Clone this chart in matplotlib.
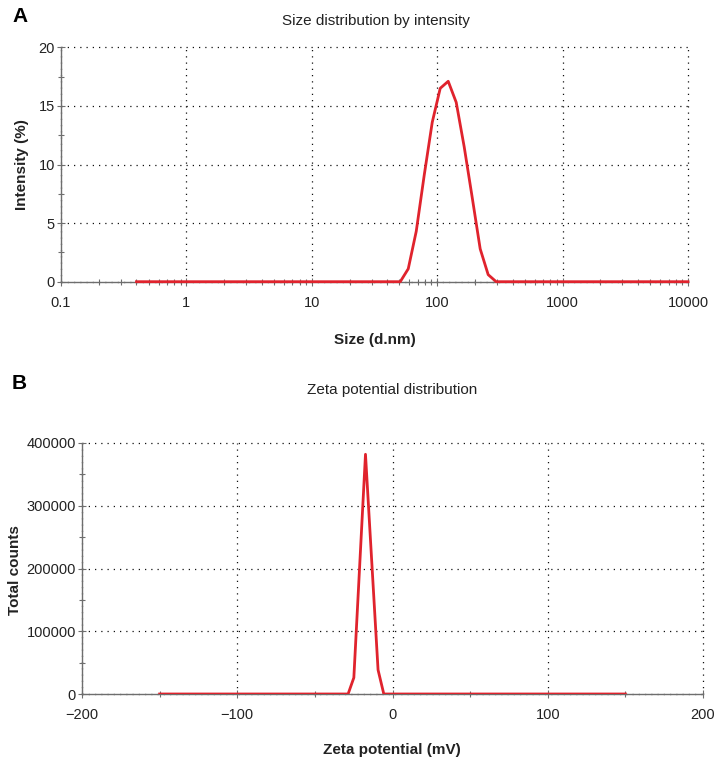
import matplotlib
matplotlib.use("Agg")
import matplotlib.pyplot as plt
from matplotlib.ticker import FixedLocator, NullFormatter, LogLocator, MultipleLocator

plt.rcParams['font.family'] = ['Liberation Sans', 'DejaVu Sans']

# Panel A: size distribution by intensity
size_nm = [0.4, 50.75, 58.77, 68.06, 78.82, 91.28, 105.7, 122.4, 141.8,
           164.2, 190.1, 220.2, 255.0, 295.3, 10000]
intensity = [0, 0, 1.1, 4.3, 9.1, 13.6, 16.5, 17.1, 15.3,
             11.5, 7.2, 2.8, 0.6, 0, 0]
size_ticks = [0.1, 1, 10, 100, 1000, 10000]
size_ticklabels = ['0.1', '1', '10', '100', '1000', '10000']
int_ticks = [0, 5, 10, 15, 20]

# Panel B: zeta potential distribution
zeta_mv = [-150, -28.6, -24.9, -17.4, -9.3, -5.6, 150]
counts = [0, 0, 26000, 382000, 38400, 0, 0]
zeta_ticks = [-200, -100, 0, 100, 200]
zeta_ticklabels = ['\u2212200', '\u2212100', '0', '100', '200']
count_ticks = [0, 100000, 200000, 300000, 400000]

RED = '#e0232d'
SPINE = '#6e6e6e'
TXT = '#222222'

fig = plt.figure(figsize=(7.2, 7.67), dpi=100)

def style(ax):
    for s in ['top', 'right']:
        ax.spines[s].set_visible(False)
    for s in ['left', 'bottom']:
        ax.spines[s].set_color(SPINE)
        ax.spines[s].set_linewidth(1.0)
    ax.tick_params(which='both', direction='inout', color=SPINE, width=0.8,
                   labelsize=10.5, labelcolor=TXT)
    ax.tick_params(which='major', length=6)
    ax.tick_params(which='minor', length=5)
    ax.tick_params(axis='x', which='major', pad=7)
    ax.tick_params(axis='y', which='major', pad=1.5)
    ax.grid(True, which='major', color='#111111', linestyle=(0, (1, 4)), linewidth=0.9)
    for gl in ax.get_xgridlines() + ax.get_ygridlines():
        gl.set_clip_on(False)

# ---- Panel A ----
axA = fig.add_axes([61/720, 1-281.7/767, 627/720, 234.4/767])
axA.plot(size_nm, intensity, color=RED, linewidth=2, clip_on=False, zorder=5)
axA.set_xscale('log')
axA.set_xlim(0.1, 10000)
axA.set_ylim(0, 20)
axA.xaxis.set_major_locator(FixedLocator(size_ticks))
axA.set_xticklabels(size_ticklabels)
axA.xaxis.set_minor_locator(LogLocator(base=10, subs=range(2, 10)))
axA.xaxis.set_minor_formatter(NullFormatter())
axA.set_yticks(int_ticks)
axA.yaxis.set_minor_locator(MultipleLocator(2.5))
style(axA)
fig.text(376/720, 1-21/767, 'Size distribution by intensity', fontsize=11,
         ha='center', va='center', color=TXT)
fig.text(375/720, 1-340/767, 'Size (d.nm)', fontsize=11, fontweight='bold',
         ha='center', va='center', color=TXT)
fig.text(22/720, 1-165/767, 'Intensity (%)', fontsize=11, fontweight='bold',
         ha='center', va='center', rotation=90, color=TXT)
fig.text(12/720, 1-17/767, 'A', fontsize=15, fontweight='bold', va='center', ha='left')

# ---- Panel B ----
axB = fig.add_axes([82/720, 1-694/767, 621/720, 251/767])
axB.plot(zeta_mv, counts, color=RED, linewidth=2, zorder=5)
axB.set_xlim(-200, 200)
axB.set_ylim(0, 400000)
axB.set_xticks(zeta_ticks)
axB.set_xticklabels(zeta_ticklabels)
axB.xaxis.set_minor_locator(MultipleLocator(50))
axB.set_yticks(count_ticks)
axB.set_yticklabels([str(v) for v in count_ticks])
axB.yaxis.set_minor_locator(MultipleLocator(50000))
style(axB)
fig.text(392/720, 1-390/767, 'Zeta potential distribution', fontsize=11,
         ha='center', va='center', color=TXT)
fig.text(392/720, 1-750/767, 'Zeta potential (mV)', fontsize=11, fontweight='bold',
         ha='center', va='center', color=TXT)
fig.text(15/720, 1-570/767, 'Total counts', fontsize=11, fontweight='bold',
         ha='center', va='center', rotation=90, color=TXT)
fig.text(12/720, 1-383/767, 'B', fontsize=15, fontweight='bold', va='center', ha='left')

fig.savefig('out.png', dpi=100)
